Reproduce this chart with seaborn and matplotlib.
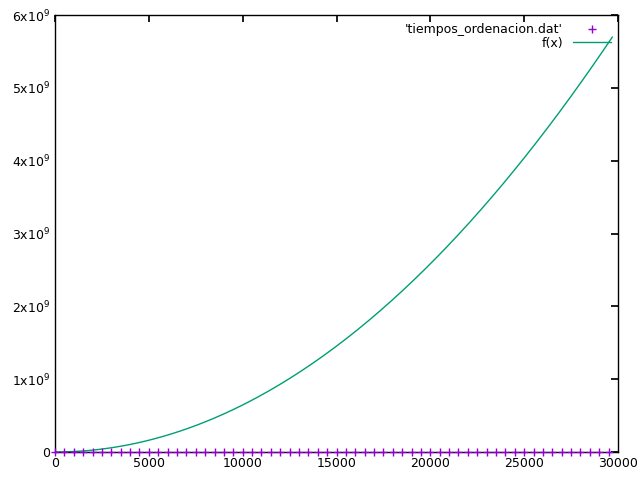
import matplotlib
matplotlib.use("Agg")
import matplotlib.pyplot as plt
import numpy as np
import seaborn as sns

sns.set_theme(style="white")
plt.rcParams["font.family"] = ["DejaVu Sans"]
plt.rcParams["text.color"] = "black"
plt.rcParams["xtick.color"] = "black"
plt.rcParams["ytick.color"] = "black"

# measured sizes (x) and sort times (y) from 'tiempos_ordenacion.dat'
sizes = list(range(0, 30000, 500))
times = [0, 1, 2, 4, 6, 10, 14, 19, 25, 31, 38, 46, 55, 64, 74, 85, 97, 109, 122, 136,
         150, 165, 181, 198, 215, 233, 252, 271, 292, 313, 334, 357, 380, 404, 429, 454,
         481, 508, 536, 564, 594, 624, 655, 686, 719, 752, 786, 821, 856, 892, 929, 967,
         1005, 1045, 1085, 1126, 1167, 1210, 1253, 1297]
times = [t * 10 for t in times]
# fitted f(x) = a*x^2
coef_a = 6.46
curve_x = np.linspace(0, 29700, 200)
curve_y = coef_a * curve_x ** 2

fig = plt.figure(figsize=(6.4, 4.8), dpi=100)
ax = fig.add_axes([55 / 640, 28 / 480, 563 / 640, 437 / 480])
sns.scatterplot(x=sizes, y=times, ax=ax, marker="+", color="#9400d3", s=40,
                linewidth=1, label="'tiempos_ordenacion.dat'", clip_on=False, zorder=3)
sns.lineplot(x=curve_x, y=curve_y, ax=ax, color="#009e73", linewidth=1, label="f(x)")

ax.set_xlim(0, 30000)
ax.set_ylim(0, 6e9)
ax.set_xticks(range(0, 30001, 5000))
yt = [i * 1e9 for i in range(7)]
ax.set_yticks(yt)
ax.set_yticklabels(["0"] + [rf"{i}x10$^{{9}}$" for i in range(1, 7)])
ax.tick_params(direction="in", length=5, top=True, right=True, labelsize=9)
for s in ax.spines.values():
    s.set_color("black")
    s.set_linewidth(1)

leg = ax.legend(loc="upper right", frameon=False, fontsize=9, markerfirst=False,
                handlelength=3, borderaxespad=0.2, labelspacing=0.1)
plt.savefig("out.png", dpi=100)
